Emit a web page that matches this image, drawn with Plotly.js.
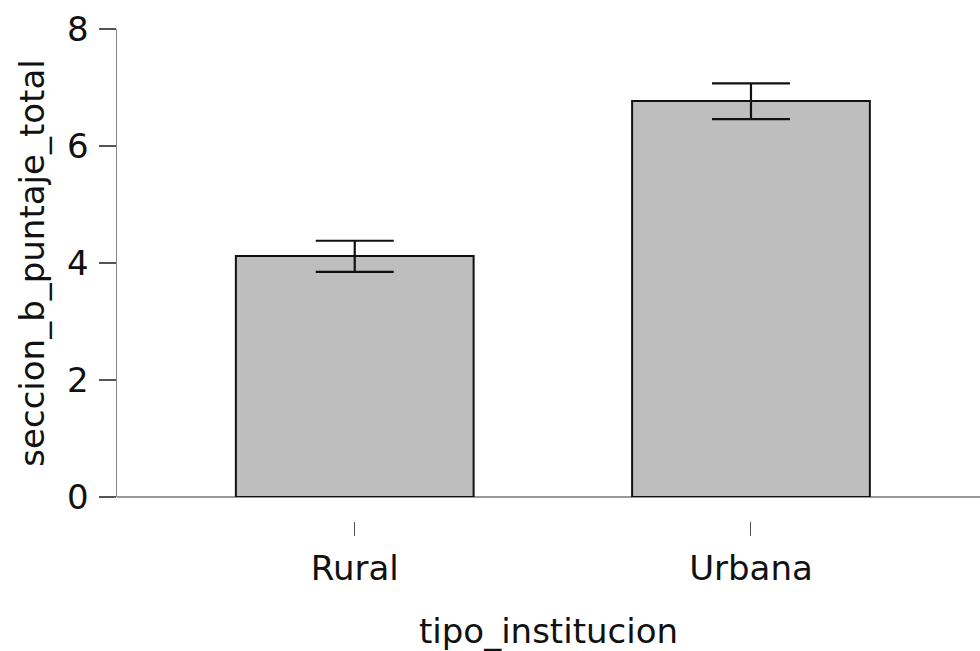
<!DOCTYPE html>
<html><head><meta charset="utf-8">
<script src="https://cdn.plot.ly/plotly-3.0.1.min.js"></script>
<style>html,body{margin:0;padding:0;background:#fff}#chart{width:980px;height:651px}</style>
</head><body><div id="chart"></div>
<script>
const categories = ['Rural', 'Urbana'];
const means = [4.12, 6.77];
const errPlus = [0.26, 0.30];
const errMinus = [0.27, 0.31];
const yTicks = [0, 2, 4, 6, 8];

const FONT = 'DejaVu Sans, sans-serif';
const FS = 34;
const trace = {
  type: 'bar', x: categories, y: means,
  marker: {color: '#bebebe', line: {color: '#111', width: 2}},
  error_y: {type: 'data', array: errPlus, arrayminus: errMinus, visible: true,
            color: '#111', thickness: 2.2, width: 39},
  hoverinfo: 'skip'
};
const layout = {
  width: 980, height: 651,
  margin: {l: 117, r: 0, t: 29, b: 130},
  paper_bgcolor: '#fff', plot_bgcolor: '#fff',
  showlegend: false, bargap: 0.4,
  font: {family: FONT, size: FS, color: '#111'},
  xaxis: {
    type: 'category', range: [-0.6, 1.578], anchor: 'free', position: 0,
    showline: false, showgrid: false, zeroline: false,
    ticks: 'outside', ticklen: 14, tickwidth: 1, tickcolor: '#555',
    ticklabelstandoff: 3,
    tickfont: {family: FONT, size: FS, color: '#111'},
    title: {text: 'tipo_institucion', font: {family: FONT, size: FS, color: '#111'}, standoff: 36}
  },
  yaxis: {
    domain: [24/492, 1], range: [0, 8], tickvals: yTicks,
    showline: true, linecolor: '#888', linewidth: 1.5,
    showgrid: false, zeroline: true, zerolinecolor: '#999', zerolinewidth: 1.5,
    ticks: 'outside', ticklen: 17, tickwidth: 1.5, tickcolor: '#555',
    ticklabelstandoff: 3,
    tickfont: {family: FONT, size: FS, color: '#111'},
    title: {text: 'seccion_b_puntaje_total', font: {family: FONT, size: FS, color: '#111'}, standoff: 12}
  }
};
Plotly.newPlot('chart', [trace], layout, {displayModeBar: false, staticPlot: true});
</script></body></html>
